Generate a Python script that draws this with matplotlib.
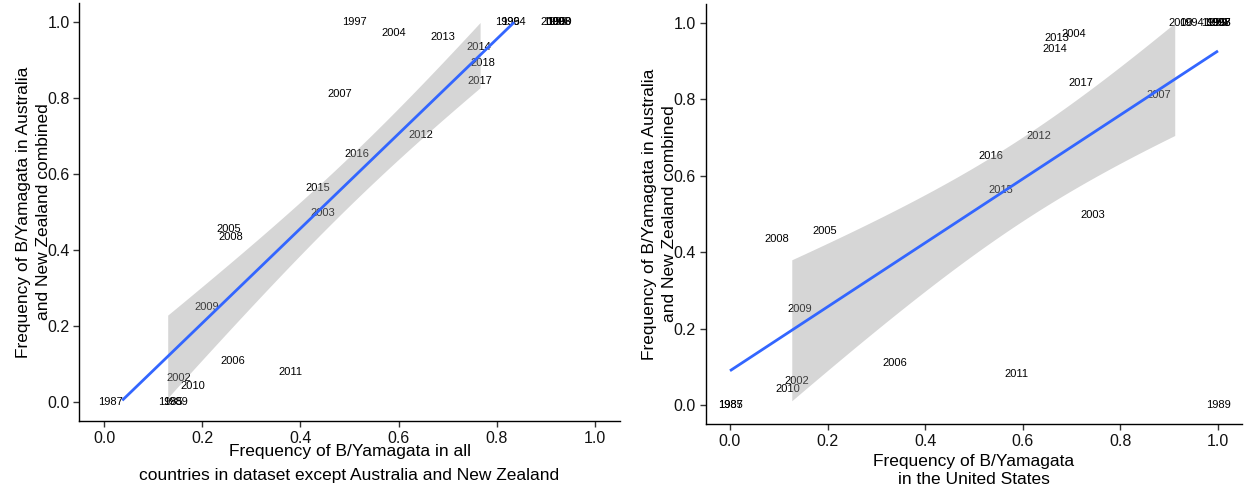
import numpy as np
import matplotlib
matplotlib.use("Agg")
import matplotlib.pyplot as plt

plt.rcParams["font.family"] = ["Liberation Sans", "DejaVu Sans"]

# Season / year labels
years = ["1985", "1987", "1989", "1994", "1995", "1996", "1997", "1998", "1999",
         "2000", "2002", "2003", "2004", "2005", "2006", "2007", "2008", "2009",
         "2010", "2011", "2012", "2013", "2014", "2015", "2016", "2017", "2018"]

# Frequency of B/Yamagata in Australia and New Zealand combined
freq_aus_nz = [0.0, 0.0, 0.0, 1.0, 1.0, 1.0, 1.0, 1.0, 1.0,
               1.0, 0.063, 0.498, 0.971, 0.456, 0.109, 0.811, 0.435, 0.250,
               0.041, 0.080, 0.703, 0.960, 0.933, 0.562, 0.652, 0.844, 0.892]

# Frequency in all other countries (except Australia and New Zealand)
freq_other = [0.136, 0.014, 0.145, 0.834, 0.920, 0.821, 0.509, 0.925, 0.928,
              0.913, 0.153, 0.446, 0.591, 0.255, 0.263, 0.481, 0.259, 0.210,
              0.181, 0.379, 0.646, 0.690, 0.764, 0.436, 0.515, 0.766, 0.772]

# Frequency in the United States (no value for 2018)
freq_us = [0.0, 0.0, 1.0, 0.945, 1.0, 0.99, 1.0, 1.0, 0.995,
           0.924, 0.137, 0.744, 0.705, 0.195, 0.338, 0.879, 0.096, 0.143,
           0.119, 0.586, 0.633, 0.670, 0.666, 0.555, 0.535, 0.719, np.nan]

tick_vals = [0.0, 0.2, 0.4, 0.6, 0.8, 1.0]
y_title = "Frequency of B/Yamagata in Australia\nand New Zealand combined"
x_title_left = "Frequency of B/Yamagata in all\ncountries in dataset except Australia and New Zealand"
x_title_right = "Frequency of B/Yamagata\nin the United States"

LIM = (0.0, 1.0)


def lm_smooth(x, y, n=80):
    """Ordinary least squares fit with a 95% confidence band, as geom_smooth(method='lm')."""
    x = np.asarray(x, float)
    y = np.asarray(y, float)
    ok = ~(np.isnan(x) | np.isnan(y))
    x, y = x[ok], y[ok]
    nobs = len(x)
    slope, intercept = np.polyfit(x, y, 1)
    resid = y - (intercept + slope * x)
    s = np.sqrt(np.sum(resid ** 2) / (nobs - 2))
    xm = x.mean()
    sxx = np.sum((x - xm) ** 2)
    grid = np.linspace(x.min(), x.max(), n)
    fit = intercept + slope * grid
    se = s * np.sqrt(1.0 / nobs + (grid - xm) ** 2 / sxx)
    # t quantile (df = nobs - 2) from the Cornish-Fisher expansion of the normal
    df = nobs - 2
    z = 1.959964
    g1 = (z ** 3 + z) / 4
    g2 = (5 * z ** 5 + 16 * z ** 3 + 3 * z) / 96
    g3 = (3 * z ** 7 + 19 * z ** 5 + 17 * z ** 3 - 15 * z) / 384
    tq = z + g1 / df + g2 / df ** 2 + g3 / df ** 3
    return grid, fit, fit - tq * se, fit + tq * se


def panel(ax, x, y, xlabel, xlinespacing, xpad):
    grid, fit, lo, hi = lm_smooth(x, y)
    # values outside the scale limits are dropped
    band_ok = (lo >= LIM[0]) & (hi <= LIM[1])
    line_ok = (fit >= LIM[0]) & (fit <= LIM[1])
    for xi, yi, lab in zip(x, y, years):
        if np.isnan(xi) or np.isnan(yi):
            continue
        ax.text(xi, yi, lab, ha="center", va="center", fontsize=8,
                color="black", zorder=1)
    ax.fill_between(grid, np.where(band_ok, lo, np.nan), np.where(band_ok, hi, np.nan),
                    color="#999999", alpha=0.4, linewidth=0, zorder=2)
    ax.plot(grid, np.where(line_ok, fit, np.nan), color="#3366FF",
            linewidth=2.0, zorder=3, solid_capstyle="butt")
    ax.set_xlim(-0.05, 1.05)
    ax.set_ylim(-0.05, 1.05)
    ax.set_xticks(tick_vals)
    ax.set_yticks(tick_vals)
    ax.set_xticklabels([f"{v:.1f}" for v in tick_vals])
    ax.set_yticklabels([f"{v:.1f}" for v in tick_vals])
    for side in ("top", "right"):
        ax.spines[side].set_visible(False)
    for side in ("left", "bottom"):
        ax.spines[side].set_linewidth(1.0)
        ax.spines[side].set_color("black")
    ax.tick_params(axis="both", direction="out", length=4, width=1.0,
                   color="#333333", labelsize=11.5, labelcolor="#111111", pad=3)
    ax.set_xlabel(xlabel, fontsize=12.5, labelpad=xpad, linespacing=xlinespacing)
    ax.set_ylabel(y_title, fontsize=12.5, labelpad=-2.5, linespacing=1.42)


fig = plt.figure(figsize=(12.44, 4.90), dpi=100)
ax1 = fig.add_axes([0.0639, 0.1408, 0.4341, 0.853])
ax2 = fig.add_axes([0.5672, 0.1345, 0.4315, 0.8576])

panel(ax1, np.array(freq_other), np.array(freq_aus_nz), x_title_left, 1.75, -1.5)
panel(ax2, np.array(freq_us), np.array(freq_aus_nz), x_title_right, 1.3, 3.5)

fig.savefig("out.png", dpi=100, facecolor="white")
